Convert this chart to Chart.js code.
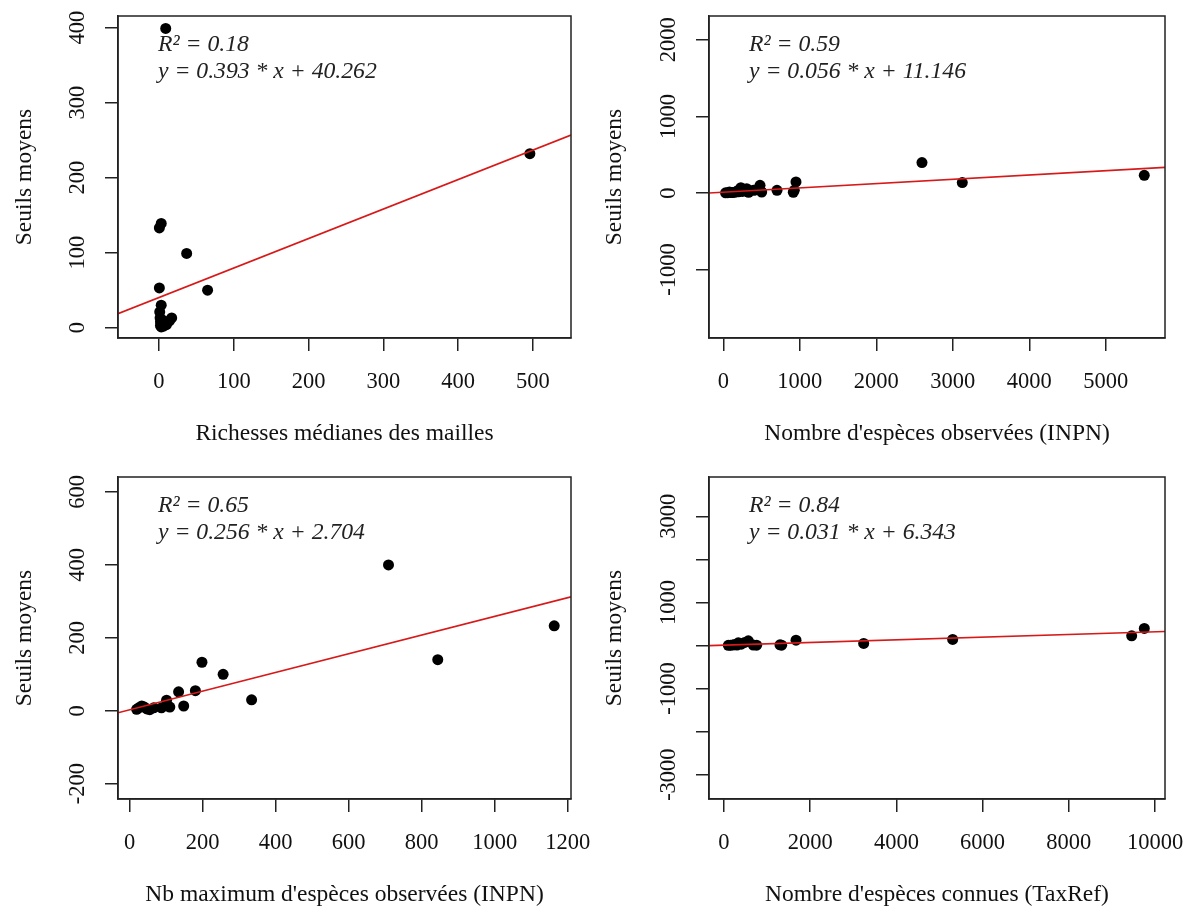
<!DOCTYPE html>
<html><head><meta charset="utf-8">
<script src="https://cdn.jsdelivr.net/npm/chart.js@4.4.1/dist/chart.umd.min.js"></script>
<style>
html,body{margin:0;padding:0;background:#fff;overflow:hidden;width:1185px;height:907px;position:relative}
canvas{position:absolute}
</style></head><body>
<script>
// ---------- DATA ----------
const xTitles = ["Richesses médianes des mailles", "Nombre d'espèces observées (INPN)",
                 "Nb maximum d'espèces observées (INPN)", "Nombre d'espèces connues (TaxRef)"];
const yTitle = "Seuils moyens";

// Panel 1 : richesse médiane vs seuil moyen
const x1 = [9, 496, 3, 0.5, 37, 0.5, 65, 3, 1, 1.5, 2, 4, 10, 17, 14, 6, 8, 2, 5, 3];
const y1 = [399, 232, 139, 133, 99, 53, 50, 30, 21, 13, 8, 5, 4, 13, 9, 2, 6, 3, 10, 1];
// Panel 2 : nombre d'espèces observées (INPN)
const x2 = [2597, 5503, 3124, 950, 480, 306, 928, 702, 392, 502, 915, 250, 200, 150, 100, 60, 30, 80, 120, 180, 330, 420, 230];
const y2 = [397, 231, 136, 144, 100, 57, 35, 35, 35, 13, 10, 20, 15, 10, 8, 5, 3, 12, 6, 25, 10, 40, 70];
// Panel 3 : nb maximum d'espèces observées (INPN)
const x3 = [709, 1163, 844, 198, 256, 334, 180, 134, 148, 101, 105, 87, 66, 47, 33, 19, 25, 110, 40, 55];
const y3 = [400, 233, 140, 133, 100, 30, 55, 52, 13, 29, 13, 8, 8, 5, 13, 4, 8, 10, 10, 3];
// Panel 4 : nombre d'espèces connues (TaxRef)
const x4 = [9752, 9459, 5306, 3241, 1671, 1299, 1338, 758, 564, 332, 200, 150, 100, 250, 400, 480, 680, 300];
const y4 = [394, 223, 139, 46, 123, 14, 5, 7, 107, 62, 10, 5, 3, 20, 30, 70, 10, 8];

// Regression coefficients (y = a * x + b) and R²
const slopes = [0.393, 0.056, 0.256, 0.031];
const intercepts = [40.262, 11.146, 2.704, 6.343];
const r2 = ["0.18", "0.59", "0.65", "0.84"];

// Axis limits and tick values
const xMin = [-54.8, -187, -32, -348];
const xMax = [551, 5774, 1209, 10232];
const yMin = [-13.7, -1893, -242, -3566];
const yMax = [415.6, 2311, 641, 3912];
const xTicks1 = [0, 100, 200, 300, 400, 500];
const yTicks1 = [0, 100, 200, 300, 400];
const xTicks2 = [0, 1000, 2000, 3000, 4000, 5000];
const yTicks2 = [-1000, 0, 1000, 2000];
const xTicks3 = [0, 200, 400, 600, 800, 1000, 1200];
const yTicks3 = [-200, 0, 200, 400, 600];
const xTicks4 = [0, 2000, 4000, 6000, 8000, 10000];
const yTicks4 = [-3000, -2000, -1000, 0, 1000, 2000, 3000];
const yLabelStep = [1, 1, 1, 2];

// ---------- LAYOUT ----------
const FAMILY = '"Liberation Serif", "Times New Roman", Times, serif';
const TICK_SIZE = 22.5, TITLE_SIZE = 23.5, NOTE_SIZE = 23.7;
const TICK_LEN = 13;
const layouts = [
  {left: 0,   top: 0,   w: 592, h: 448, box: [118, 16, 571, 338]},
  {left: 592, top: 0,   w: 593, h: 448, box: [709, 16, 1165, 338]},
  {left: 0,   top: 453, w: 592, h: 456, box: [118, 477, 571, 799]},
  {left: 592, top: 453, w: 593, h: 456, box: [709, 477, 1165, 799]}
];
const panels = [
  {xs: x1, ys: y1, xt: xTicks1, yt: yTicks1},
  {xs: x2, ys: y2, xt: xTicks2, yt: yTicks2},
  {xs: x3, ys: y3, xt: xTicks3, yt: yTicks3},
  {xs: x4, ys: y4, xt: xTicks4, yt: yTicks4}
];

const measureCtx = document.createElement('canvas').getContext('2d');
measureCtx.font = TICK_SIZE + 'px ' + FAMILY;

function zeroPad(s) { s.paddingTop = 0; s.paddingBottom = 0; s.paddingLeft = 0; s.paddingRight = 0; }

panels.forEach((p, k) => {
  const L = layouts[k];
  const cv = document.createElement('canvas');
  cv.width = L.w; cv.height = L.h;
  cv.style.left = L.left + 'px'; cv.style.top = L.top + 'px';
  cv.style.width = L.w + 'px'; cv.style.height = L.h + 'px';
  document.body.appendChild(cv);

  const [bl, bt, br, bb] = L.box;
  const yAxisW = bl - L.left;
  const xAxisH = L.top + L.h - bb;
  const padTop = bt - L.top;
  const padRight = L.left + L.w - br;

  const yLabels = p.yt.map((v, i) => (i % yLabelStep[k] === 0 ? String(v) : ''));
  const widest = Math.max(...yLabels.map(s => measureCtx.measureText(s).width));
  const yPad = Math.max(0, 40 - TICK_LEN - widest / 2);

  const a = slopes[k], b = intercepts[k];
  const lineData = [{x: xMin[k], y: a * xMin[k] + b}, {x: xMax[k], y: a * xMax[k] + b}];
  const pts = p.xs.map((x, i) => ({x: x, y: p.ys[i]}));

  const notePlugin = {
    id: 'note' + k,
    afterDraw(chart) {
      const ca = chart.chartArea, ctx = chart.ctx;
      ctx.save();
      ctx.strokeStyle = '#222'; ctx.lineWidth = 1.5;
      ctx.strokeRect(ca.left, ca.top, ca.right - ca.left, ca.bottom - ca.top);
      ctx.fillStyle = '#222';
      ctx.font = 'italic ' + NOTE_SIZE + 'px ' + FAMILY;
      ctx.textBaseline = 'middle'; ctx.textAlign = 'left';
      ctx.fillText('R² = ' + r2[k], ca.left + 40, ca.top + 29);
      ctx.fillText('y = ' + a.toFixed(3) + ' * x + ' + b.toFixed(3), ca.left + 40, ca.top + 56);
      ctx.restore();
    }
  };

  new Chart(cv, {
    type: 'scatter',
    data: {
      datasets: [
        {type: 'line', data: lineData, borderColor: 'rgb(215,25,25)', borderWidth: 1.6,
         pointRadius: 0, fill: false, order: 0, tension: 0},
        {type: 'scatter', data: pts, backgroundColor: '#000', borderColor: '#000',
         pointRadius: 5.5, borderWidth: 0, order: 1}
      ]
    },
    options: {
      responsive: false, animation: false, events: [],
      layout: {padding: {top: padTop, right: padRight, left: 0, bottom: 0}},
      plugins: {legend: {display: false}, tooltip: {enabled: false}},
      scales: {
        x: {
          type: 'linear', position: 'bottom', min: xMin[k], max: xMax[k],
          afterBuildTicks: s => { s.ticks = p.xt.map(v => ({value: v})); },
          afterFit: s => { s.height = xAxisH; zeroPad(s); },
          ticks: {autoSkip: false, minRotation: 0, maxRotation: 0, padding: 18, color: '#111',
                  font: {family: FAMILY, size: TICK_SIZE}, callback: v => String(v)},
          grid: {drawOnChartArea: false, drawTicks: true, tickLength: TICK_LEN, color: '#222', lineWidth: 1.5},
          border: {display: true, color: '#222', width: 1.5},
          title: {display: true, text: xTitles[k], color: '#111',
                  font: {family: FAMILY, size: TITLE_SIZE}, padding: {top: 0, bottom: 0}}
        },
        y: {
          type: 'linear', position: 'left', min: yMin[k], max: yMax[k],
          afterBuildTicks: s => { s.ticks = p.yt.map(v => ({value: v})); },
          afterFit: s => { s.width = yAxisW; zeroPad(s); },
          ticks: {autoSkip: false, minRotation: 90, maxRotation: 90, crossAlign: 'center',
                  padding: yPad, color: '#111', font: {family: FAMILY, size: TICK_SIZE},
                  callback: (v, i) => yLabels[i]},
          grid: {drawOnChartArea: false, drawTicks: true, tickLength: TICK_LEN, color: '#222', lineWidth: 1.5},
          border: {display: true, color: '#222', width: 1.5},
          title: {display: true, text: yTitle, color: '#111',
                  font: {family: FAMILY, size: TITLE_SIZE}, padding: {top: (k % 2 === 0 ? 11 : 9), bottom: 0}}
        }
      }
    },
    plugins: [notePlugin]
  });
});
</script>
</body></html>
